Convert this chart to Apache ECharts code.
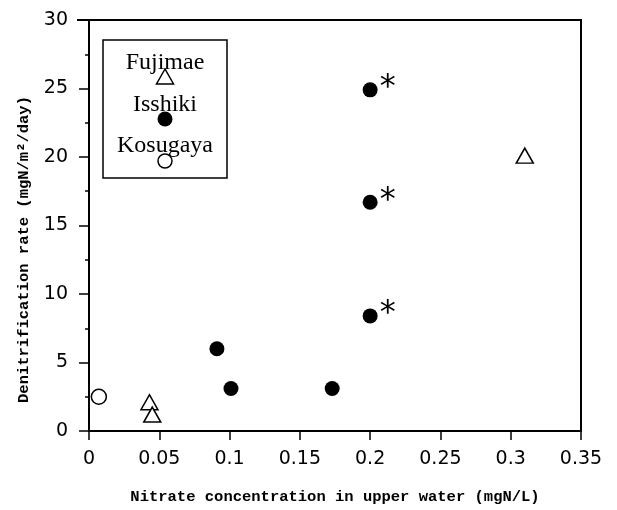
<!DOCTYPE html>
<html>
<head>
<meta charset="utf-8">
<script src="https://cdn.jsdelivr.net/npm/echarts@6/dist/echarts.min.js"></script>
<style>
  html, body { margin: 0; padding: 0; background: #fff; }
  #chart { width: 617px; height: 510px; }
</style>
</head>
<body>
<div id="chart"></div>
<script>
// values
const fujimaeX = [0.043, 0.045, 0.31];
const fujimaeY = [2.1, 1.2, 20.1];
const isshikiX = [0.091, 0.101, 0.173, 0.2, 0.2, 0.2];
const isshikiY = [6.0, 3.1, 3.1, 8.4, 16.7, 24.9];
const isshikiStar = [false, false, false, true, true, true];
const kosugayaX = [0.007];
const kosugayaY = [2.5];
const siteNames = ['Fujimae', 'Isshiki', 'Kosugaya'];

const xTicks = [0, 0.05, 0.1, 0.15, 0.2, 0.25, 0.3, 0.35];
const yTicks = [0, 5, 10, 15, 20, 25, 30];

var chartDom = document.getElementById('chart');
var myChart = echarts.init(chartDom, null, {renderer: 'canvas'});

const pairs = (xs, ys) => xs.map((x, i) => [x, ys[i]]);
const monoFont = '"Liberation Mono", "DejaVu Sans Mono", monospace';
const tickFont = '"DejaVu Sans", sans-serif';
const serifFont = '"Liberation Serif", "DejaVu Serif", serif';

const isshikiData = isshikiX.map((x, i) => {
    const item = {value: [x, isshikiY[i]]};
    if (isshikiStar[i]) {
        item.label = {
            show: true,
            formatter: '*',
            position: 'right',
            distance: 0,
            offset: [2, -2],
            fontSize: 32,
            fontFamily: tickFont,
            color: '#000'
        };
    }
    return item;
});

// legend box drawn by hand: text above each symbol
const legendCx = 165;
const legendGraphic = [
    {type: 'rect', shape: {x: 103, y: 40, width: 124, height: 138},
        style: {fill: '#fff', stroke: '#000', lineWidth: 1.5}},
    {type: 'text', x: legendCx, y: 63, style: {text: siteNames[0], font: '24px ' + serifFont,
        textAlign: 'center', textVerticalAlign: 'middle', fill: '#000'}},
    {type: 'polygon', shape: {points: [[legendCx, 69], [legendCx - 8.5, 84], [legendCx + 8.5, 84]]},
        style: {fill: '#fff', stroke: '#000', lineWidth: 1.5}},
    {type: 'text', x: legendCx, y: 105, style: {text: siteNames[1], font: '24px ' + serifFont,
        textAlign: 'center', textVerticalAlign: 'middle', fill: '#000'}},
    {type: 'circle', shape: {cx: legendCx, cy: 119, r: 7.5}, style: {fill: '#000'}},
    {type: 'text', x: legendCx, y: 146, style: {text: siteNames[2], font: '24px ' + serifFont,
        textAlign: 'center', textVerticalAlign: 'middle', fill: '#000'}},
    {type: 'circle', shape: {cx: legendCx, cy: 161, r: 7}, style: {fill: '#fff', stroke: '#000', lineWidth: 1.5}},
    // top frame line runs a little past the left axis, as in the original
    {type: 'line', shape: {x1: 77, y1: 20, x2: 90, y2: 20}, style: {stroke: '#000', lineWidth: 2}}
];

var option = {
    backgroundColor: '#fff',
    animation: false,
    grid: {
        left: 89, right: 36, top: 20, bottom: 70,
        show: true, borderColor: '#000', borderWidth: 2
    },
    xAxis: {
        type: 'value',
        min: xTicks[0],
        max: xTicks[xTicks.length - 1],
        interval: 0.05,
        name: 'Nitrate concentration in upper water (mgN/L)',
        nameLocation: 'middle',
        nameGap: 58,
        nameTextStyle: {fontFamily: monoFont, fontSize: 15.5, fontWeight: 'bold', color: '#000'},
        axisLine: {show: true, lineStyle: {color: '#000', width: 2}},
        axisTick: {show: true, inside: false, length: 9, lineStyle: {color: '#000', width: 1.5}},
        axisLabel: {color: '#000', fontFamily: tickFont, fontSize: 19, margin: 19,
            formatter: v => String(+v.toFixed(2))},
        splitLine: {show: false}
    },
    yAxis: {
        type: 'value',
        min: yTicks[0],
        max: yTicks[yTicks.length - 1],
        interval: 5,
        name: 'Denitrification rate (mgN/m\u00b2/day)',
        nameLocation: 'middle',
        nameGap: 57,
        nameTextStyle: {fontFamily: monoFont, fontSize: 15.5, fontWeight: 'bold', color: '#000',
            padding: [0, 48, 0, 0]},
        axisLine: {show: true, lineStyle: {color: '#000', width: 2}},
        axisTick: {show: true, inside: false, length: 10, lineStyle: {color: '#000', width: 1.5}},
        minorTick: {show: true, splitNumber: 2, length: 4, lineStyle: {color: '#000', width: 1.5}},
        axisLabel: {color: '#000', fontFamily: tickFont, fontSize: 19, margin: 21},
        splitLine: {show: false}
    },
    graphic: legendGraphic,
    series: [
        {
            name: siteNames[0],
            type: 'scatter',
            symbol: 'triangle',
            symbolSize: [17, 15],
            itemStyle: {color: '#fff', borderColor: '#000', borderWidth: 1.5, opacity: 1},
            data: pairs(fujimaeX, fujimaeY)
        },
        {
            name: siteNames[1],
            type: 'scatter',
            symbol: 'circle',
            symbolSize: 15,
            itemStyle: {color: '#000', opacity: 1},
            data: isshikiData
        },
        {
            name: siteNames[2],
            type: 'scatter',
            symbol: 'circle',
            symbolSize: 15,
            itemStyle: {color: '#fff', borderColor: '#000', borderWidth: 1.5, opacity: 1},
            data: pairs(kosugayaX, kosugayaY)
        }
    ]
};

myChart.setOption(option);
</script>
</body>
</html>
